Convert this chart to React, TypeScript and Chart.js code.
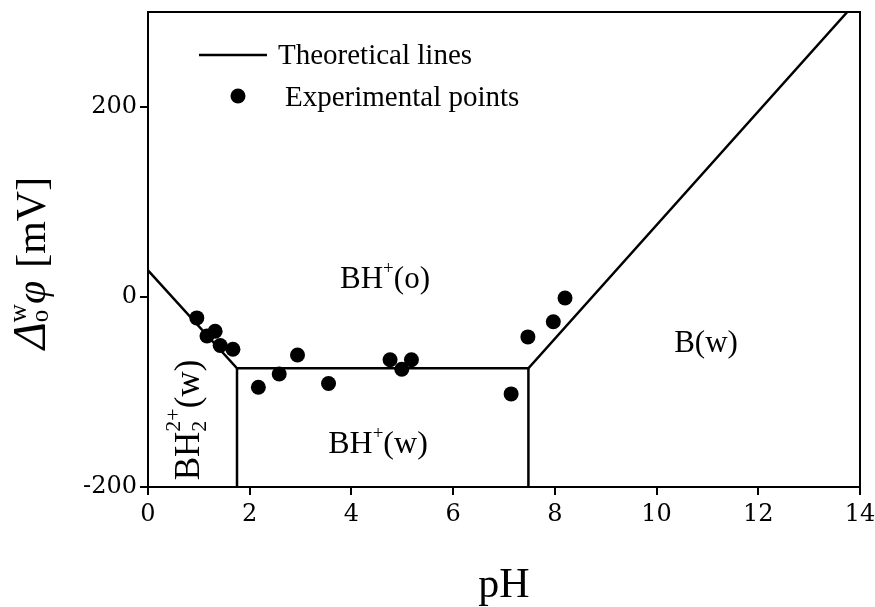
import React, { useEffect, useRef } from "react";
import { Chart, registerables } from "chart.js";

Chart.register(...registerables);

// ---- data ----
const expPH = [0.96, 1.16, 1.32, 1.42, 1.67, 2.17, 2.58, 2.94, 3.55, 4.76, 4.99, 5.18, 7.14, 7.47, 7.97, 8.2];
const expPotential = [-22, -41, -36, -51, -55, -95, -81, -61, -91, -66, -76, -66, -102, -42, -26, -1];

const theoPH = [0, 1.75, 7.48, 13.75];
const theoPotential = [28, -75, -75, 300];

const boundaryLeftPH = [1.75, 1.75];
const boundaryLeftPotential = [-75, -200];
const boundaryRightPH = [7.48, 7.48];
const boundaryRightPotential = [-75, -200];

const xTicks = [0, 2, 4, 6, 8, 10, 12, 14];
const yTicks = [-200, 0, 200];

const FONT = "'Liberation Serif', 'DejaVu Serif', serif";
const TICK_FONT = "'DejaVu Serif', 'Liberation Serif', serif";

type Part = { t: string; size: number; italic?: boolean; dy?: number; stack?: boolean };

function partWidth(ctx: CanvasRenderingContext2D, p: Part) {
  ctx.font = `${p.italic ? "italic " : ""}${p.size}px ${FONT}`;
  return ctx.measureText(p.t).width;
}

// parts with stack=true share x position with the previous part
function drawRich(ctx: CanvasRenderingContext2D, parts: Part[], x: number, y: number, align: "left" | "center") {
  const xs: number[] = [];
  let cur = 0;
  let prevStart = 0;
  let prevW = 0;
  parts.forEach((p) => {
    const w = partWidth(ctx, p);
    if (p.stack) {
      xs.push(prevStart);
      cur = prevStart + Math.max(prevW, w);
      prevW = Math.max(prevW, w);
    } else {
      xs.push(cur);
      prevStart = cur;
      prevW = w;
      cur += w;
    }
  });
  const total = cur;
  const x0 = align === "center" ? x - total / 2 : x;
  ctx.fillStyle = "#000";
  ctx.textBaseline = "alphabetic";
  ctx.textAlign = "left";
  parts.forEach((p, i) => {
    ctx.font = `${p.italic ? "italic " : ""}${p.size}px ${FONT}`;
    ctx.fillText(p.t, x0 + xs[i], y + (p.dy || 0));
  });
}

const annotationPlugin = {
  id: "annotations",
  afterDraw(chart: any) {
    const { ctx, chartArea } = chart;
    ctx.save();
    // frame top/right
    ctx.strokeStyle = "#000";
    ctx.lineWidth = 2;
    ctx.beginPath();
    ctx.moveTo(chartArea.left, chartArea.top);
    ctx.lineTo(chartArea.right, chartArea.top);
    ctx.lineTo(chartArea.right, chartArea.bottom);
    ctx.stroke();

    // legend
    ctx.lineWidth = 2.5;
    ctx.beginPath();
    ctx.moveTo(199, 55);
    ctx.lineTo(267, 55);
    ctx.stroke();
    ctx.beginPath();
    ctx.arc(238, 96, 7.5, 0, Math.PI * 2);
    ctx.fillStyle = "#000";
    ctx.fill();
    ctx.font = `29px ${FONT}`;
    ctx.textBaseline = "middle";
    ctx.textAlign = "left";
    ctx.fillText("Theoretical lines", 278, 56);
    ctx.fillText("Experimental points", 285, 98);

    // region labels
    drawRich(ctx, [
      { t: "BH", size: 31 },
      { t: "+", size: 19, dy: -14 },
      { t: "(o)", size: 31 },
    ], 385, 288, "center");
    drawRich(ctx, [
      { t: "BH", size: 32 },
      { t: "+", size: 19, dy: -14 },
      { t: "(w)", size: 32 },
    ], 378, 453, "center");
    drawRich(ctx, [{ t: "B(w)", size: 31 }], 706, 352, "center");

    // rotated BH2 2+(w)
    ctx.save();
    ctx.translate(199, 420);
    ctx.rotate(-Math.PI / 2);
    drawRich(ctx, [
      { t: "BH", size: 35 },
      { t: "2", size: 22, dy: 7 },
      { t: "2+", size: 22, dy: -19, stack: true },
      { t: "(w)", size: 35 },
    ], 0, 0, "center");
    ctx.restore();

    // y axis title
    ctx.save();
    ctx.translate(45, 263);
    ctx.rotate(-Math.PI / 2);
    drawRich(ctx, [
      { t: "Δ", size: 46, italic: true },
      { t: "w", size: 25, dy: -19 },
      { t: "o", size: 25, dy: 3, stack: true },
      { t: "φ", size: 42, italic: true },
      { t: "  ", size: 26 },
      { t: "[mV]", size: 42 },
    ], 0, 0, "center");
    ctx.restore();

    // x axis title
    ctx.font = `42px ${FONT}`;
    ctx.textAlign = "center";
    ctx.textBaseline = "alphabetic";
    ctx.fillStyle = "#000";
    ctx.fillText("pH", 504, 597);

    ctx.restore();
  },
};

export default function App() {
  const ref = useRef<HTMLCanvasElement | null>(null);

  useEffect(() => {
    document.body.style.margin = "0";
    const canvas = ref.current;
    if (!canvas) return;

    const lineStyle = {
      borderColor: "#000",
      borderWidth: 2.5,
      pointRadius: 0,
      showLine: true,
      fill: false,
      tension: 0,
    };

    const chart = new Chart(canvas, {
      type: "scatter",
      data: {
        datasets: [
          {
            label: "Theoretical lines",
            data: theoPH.map((x, i) => ({ x, y: theoPotential[i] })),
            ...lineStyle,
          },
          {
            label: "boundary left",
            data: boundaryLeftPH.map((x, i) => ({ x, y: boundaryLeftPotential[i] })),
            ...lineStyle,
          },
          {
            label: "boundary right",
            data: boundaryRightPH.map((x, i) => ({ x, y: boundaryRightPotential[i] })),
            ...lineStyle,
          },
          {
            label: "Experimental points",
            data: expPH.map((x, i) => ({ x, y: expPotential[i] })),
            pointRadius: 7.5,
            pointBackgroundColor: "#000",
            pointBorderColor: "#000",
            pointBorderWidth: 0,
            showLine: false,
          },
        ],
      },
      options: {
        animation: false,
        responsive: false,
        maintainAspectRatio: false,
        layout: { padding: { left: 0, right: 15, top: 12, bottom: 0 } },
        plugins: {
          legend: { display: false },
          tooltip: { enabled: false },
        },
        scales: {
          x: {
            type: "linear",
            min: 0,
            max: 14,
            afterBuildTicks: (scale: any) => {
              scale.ticks = xTicks.map((v) => ({ value: v }));
            },
            afterFit: (scale: any) => {
              scale.height = 120;
              scale.paddingLeft = 0;
              scale.paddingRight = 0;
            },
            grid: {
              drawOnChartArea: false,
              drawTicks: true,
              tickLength: 8,
              color: "#000",
              lineWidth: 2,
            },
            border: { display: true, color: "#000", width: 2 },
            ticks: {
              color: "#000",
              font: { family: TICK_FONT, size: 24 },
              padding: 5,
              maxRotation: 0,
            },
          },
          y: {
            type: "linear",
            min: -200,
            max: 300,
            afterBuildTicks: (scale: any) => {
              scale.ticks = yTicks.map((v) => ({ value: v }));
            },
            afterFit: (scale: any) => {
              scale.width = 148;
              scale.paddingTop = 0;
              scale.paddingBottom = 0;
            },
            grid: {
              drawOnChartArea: false,
              drawTicks: true,
              tickLength: 8,
              color: "#000",
              lineWidth: 2,
            },
            border: { display: true, color: "#000", width: 2 },
            ticks: {
              color: "#000",
              font: { family: TICK_FONT, size: 24 },
              padding: 3,
            },
          },
        },
      },
      plugins: [annotationPlugin],
    } as any);

    return () => chart.destroy();
  }, []);

  return <canvas ref={ref} width={875} height={607} style={{ display: "block" }} />;
}
